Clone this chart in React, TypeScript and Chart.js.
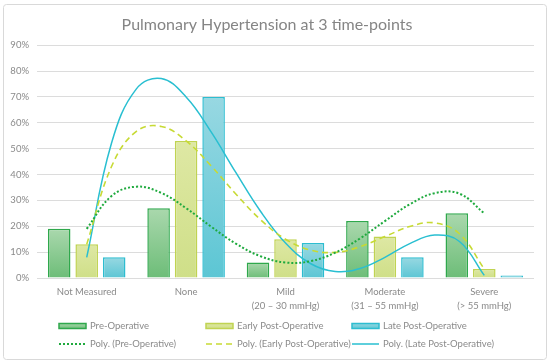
import React, { useEffect, useRef } from "react";
import { Chart, registerables } from "chart.js";

Chart.register(...registerables);

const categories: string[][] = [
  ["Not Measured"],
  ["None"],
  ["Mild", "(20 – 30 mmHg)"],
  ["Moderate", "(31 – 55 mmHg)"],
  ["Severe", "(> 55 mmHg)"],
];

const preOperative = [19, 27, 6, 22, 25];
const earlyPostOperative = [13, 53, 15, 16, 3.5];
const latePostOperative = [8, 70, 13.5, 8, 1];

const yTicks = [0, 10, 20, 30, 40, 50, 60, 70, 80, 90];

// trendline positions (category index, 1 = first category)
const trendX = [1, 1.25, 1.5, 1.75, 2, 2.25, 2.5, 2.75, 3, 3.25, 3.5, 3.75, 4, 4.25, 4.5, 4.75, 5];
const preTrend = [19, 31.7, 35.3, 32.9, 27, 19.9, 13.3, 8.4, 6, 6.5, 9.8, 15.3, 22, 28.5, 32.8, 32.6, 25];
const earlyTrend = [13, 43.1, 56.7, 58.6, 53, 43.4, 32.5, 22.5, 15, 10.8, 9.9, 12.1, 16, 19.9, 21.3, 17.1, 3.5];
const lateTrend = [8, 52.2, 73.1, 77.1, 70, 56.6, 40.8, 25.7, 13.5, 5.6, 2.5, 3.7, 8, 13.3, 16.6, 14.1, 1];

const legendLabels = [
  "Pre-Operative",
  "Early Post-Operative",
  "Late Post-Operative",
  "Poly. (Pre-Operative)",
  "Poly. (Early Post-Operative)",
  "Poly. (Late Post-Operative)",
];

const FONT = "Lato";
const TEXT = "#8a8a8a";

const barStyle = [
  { top: "#aad8ad", bottom: "#6dbd78", border: "#2fa84c" },
  { top: "#dee8a4", bottom: "#cfdf88", border: "#c0d352" },
  { top: "#98d8e2", bottom: "#5cc6d4", border: "#2dbdd0" },
];
const lineStyle = [
  { color: "#1faa3e", dash: [2, 2], width: 2 },
  { color: "#c7da34", dash: [6, 4], width: 1.6 },
  { color: "#29bfd1", dash: [] as number[], width: 1.5 },
];

function gradFor(idx: number) {
  return (ctx: any) => {
    const chart = ctx.chart;
    const area = chart.chartArea;
    const st = barStyle[idx];
    if (!area || ctx.type !== "data") return st.bottom;
    const yScale = chart.scales.y;
    const raw = ctx.raw as any;
    const v = typeof raw === "number" ? raw : raw.y;
    const yTop = yScale.getPixelForValue(v);
    const yBot = yScale.getPixelForValue(0);
    if (!(yBot - yTop > 0.5)) return st.bottom;
    const g = chart.ctx.createLinearGradient(0, yTop, 0, yBot);
    g.addColorStop(0, st.top);
    g.addColorStop(1, st.bottom);
    return g;
  };
}

const framePlugin = {
  id: "frameAndLegend",
  afterDraw(chart: any) {
    const c = chart.ctx as CanvasRenderingContext2D;
    c.save();
    // outer frame
    c.strokeStyle = "#d9d9d9";
    c.lineWidth = 1;
    c.beginPath();
    (c as any).roundRect ? (c as any).roundRect(3.5, 4.5, 543, 355, 3) : c.rect(3.5, 4.5, 543, 355);
    c.stroke();

    // legend
    const colX = [59, 206, 352];
    const rowY = [326, 344];
    c.font = `9.5px ${FONT}`;
    c.textBaseline = "middle";
    c.textAlign = "left";
    for (let i = 0; i < 3; i++) {
      const x = colX[i];
      const b = barStyle[i];
      const y = rowY[0];
      const g = c.createLinearGradient(0, y - 3, 0, y + 3);
      g.addColorStop(0, b.top);
      g.addColorStop(1, b.bottom);
      c.fillStyle = g;
      c.fillRect(x, y - 2.5, 27, 5);
      c.strokeStyle = b.border;
      c.lineWidth = 1.5;
      c.setLineDash([]);
      c.strokeRect(x, y - 2.5, 27, 5);
      c.fillStyle = TEXT;
      c.fillText(legendLabels[i], x + 31, y);

      const l = lineStyle[i];
      const y2 = rowY[1];
      c.strokeStyle = l.color;
      c.lineWidth = l.width;
      c.setLineDash(l.dash);
      c.beginPath();
      c.moveTo(x, y2);
      c.lineTo(x + 27, y2);
      c.stroke();
      c.setLineDash([]);
      c.fillStyle = TEXT;
      c.fillText(legendLabels[i + 3], x + 31, y2);
    }
    c.restore();
  },
};

export default function App() {
  const ref = useRef<HTMLCanvasElement | null>(null);

  useEffect(() => {
    document.body.style.margin = "0";
    const canvas = ref.current;
    if (!canvas) return;

    const bars = [preOperative, earlyPostOperative, latePostOperative].map((d, i) => ({
      type: "bar" as const,
      label: legendLabels[i],
      data: d.map((v, k) => ({ x: k + 1, y: v })),
      backgroundColor: gradFor(i),
      borderColor: barStyle[i].border,
      borderWidth: 1.5,
      categoryPercentage: 0.83,
      barPercentage: 0.82,
      order: 2,
    }));

    const lines = [preTrend, earlyTrend, lateTrend].map((d, i) => ({
      type: "line" as const,
      label: legendLabels[i + 3],
      data: d.map((v, k) => ({ x: trendX[k], y: v })),
      borderColor: lineStyle[i].color,
      borderWidth: lineStyle[i].width,
      borderDash: lineStyle[i].dash,
      pointRadius: 0,
      tension: 0.4,
      fill: false,
      order: 1,
    }));

    const chart = new Chart(canvas, {
      type: "bar",
      data: {
        datasets: [...bars, ...lines] as any,
      },
      plugins: [framePlugin],
      options: {
        animation: false,
        responsive: true,
        maintainAspectRatio: false,
        layout: { padding: { top: 0, right: 16, bottom: 50, left: 0 } },
        plugins: {
          legend: { display: false },
          tooltip: { enabled: false },
          title: {
            display: true,
            text: "Pulmonary Hypertension at 3 time-points",
            color: "#858585",
            font: { family: FONT, size: 16, weight: "normal" },
            padding: { top: 15, bottom: 11 },
          },
        },
        scales: {
          x: {
            type: "linear",
            offset: false,
            min: 0.5,
            max: 5.5,
            afterBuildTicks: (s: any) => {
              s.ticks = categories.map((_, k) => ({ value: k + 1 }));
            },
            grid: { display: false, drawTicks: false },
            border: { display: false },
            ticks: {
              color: TEXT,
              font: { family: FONT, size: 9.5, lineHeight: 1.5 },
              padding: 7,
              maxRotation: 0,
              autoSkip: false,
              callback: (v: any) => categories[Math.round(v) - 1] || "",
            },
            afterFit: (s: any) => {
              s.height = 36;
            },
          },
          y: {
            type: "linear",
            min: 0,
            max: 90,
            afterBuildTicks: (s: any) => {
              s.ticks = yTicks.map((v) => ({ value: v }));
            },
            grid: { color: "#dcdcdc", lineWidth: 1, drawTicks: false },
            border: { display: false },
            ticks: {
              color: TEXT,
              font: { family: FONT, size: 9.5 },
              padding: 8,
              callback: (v: any) => `${v}%`,
            },
            afterFit: (s: any) => {
              s.width = 37;
            },
          },
        },
      } as any,
    });

    return () => chart.destroy();
  }, []);

  return (
    <div style={{ position: "relative", width: 550, height: 364, background: "#ffffff" }}>
      <canvas ref={ref} />
    </div>
  );
}
